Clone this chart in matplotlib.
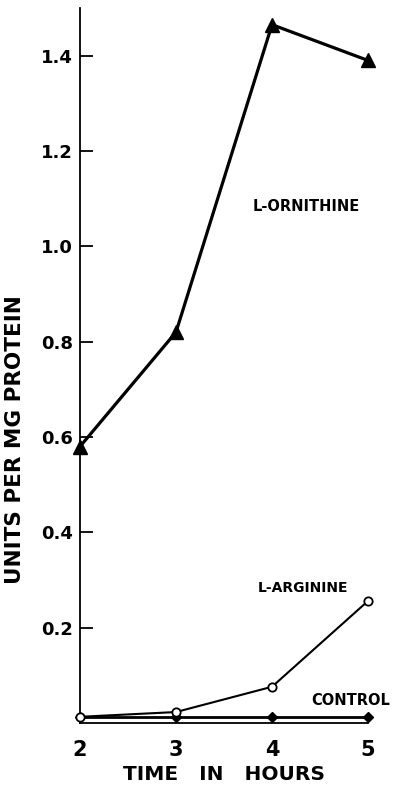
import matplotlib
matplotlib.use('Agg')
import matplotlib.pyplot as plt

hours = [2, 3, 4, 5]
ornithine = [0.58, 0.82, 1.465, 1.39]
arginine = [0.013, 0.023, 0.076, 0.256]
control = [0.012, 0.012, 0.012, 0.012]
yticks = [0.2, 0.4, 0.6, 0.8, 1.0, 1.2, 1.4]

plt.rcParams['font.family'] = 'DejaVu Sans'
plt.rcParams['font.weight'] = 'bold'

fig = plt.figure(figsize=(3.94, 7.89), dpi=100)
ax = fig.add_axes([80 / 394, 66 / 789, 288 / 394, 715 / 789])

ax.plot(hours, control, color='black', linewidth=2.0, marker='D', markersize=5,
        zorder=3, clip_on=False)
ax.plot(hours, arginine, color='black', linewidth=1.5, marker='o', markersize=6,
        markerfacecolor='white', markeredgewidth=1.3, zorder=4, clip_on=False)
ax.plot(hours, ornithine, color='black', linewidth=2.3, marker='^', markersize=10,
        zorder=5, clip_on=False)

ax.text(4.36, 1.084, 'L-ORNITHINE', fontsize=10.5, fontweight='bold', ha='center', va='center')
ax.text(4.32, 0.284, 'L-ARGININE', fontsize=10, fontweight='bold', ha='center', va='center')
ax.text(4.82, 0.048, 'CONTROL', fontsize=10.5, fontweight='bold', ha='center', va='center')

ax.set_xlim(2, 5)
ax.set_ylim(0, 1.5)
ax.set_xticks(hours)
ax.set_yticks(yticks)
ax.set_yticklabels([f'{v:.1f}' for v in yticks])

for s in ['top', 'right']:
    ax.spines[s].set_visible(False)
ax.spines['left'].set_linewidth(1.3)
ax.spines['bottom'].set_linewidth(1.3)

ax.tick_params(axis='y', direction='in', length=9, width=1.3, pad=5, labelsize=13)
ax.tick_params(axis='x', length=0, pad=12, labelsize=15)

ax.set_xlabel('TIME   IN   HOURS', fontsize=14.5, fontweight='bold', labelpad=4)
ax.set_ylabel('UNITS PER MG PROTEIN', fontsize=15.5, fontweight='bold')
ax.yaxis.set_label_coords(-0.19, 0.397)

fig.savefig('out.png', dpi=100)
